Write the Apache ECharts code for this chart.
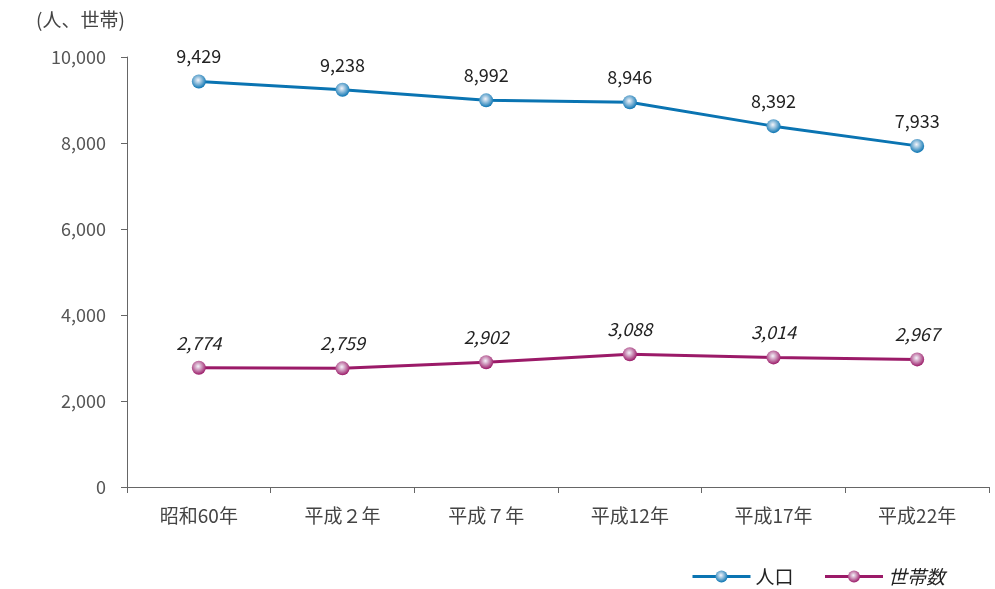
<!DOCTYPE html>
<html><head><meta charset="utf-8">
<script src="https://cdn.jsdelivr.net/npm/echarts@6/dist/echarts.min.js"></script>
<style>html,body{margin:0;padding:0;background:#fff}#c{width:995px;height:589px}</style>
</head><body><div id="c"></div>
<script>
const categories = ["昭和60年", "平成２年", "平成７年", "平成12年", "平成17年", "平成22年"];
const population = [9429, 9238, 8992, 8946, 8392, 7933];
const households = [2774, 2759, 2902, 3088, 3014, 2967];
const yTicks = [0, 2000, 4000, 6000, 8000, 10000];

const FONT = '"Noto Sans CJK JP", "Noto Sans", sans-serif';
const blue = '#0a74b2', purple = '#9b1a68';
function grad(c) {
  return { type: 'radial', x: 0.45, y: 0.4, r: 0.6,
    colorStops: [{ offset: 0, color: '#f4f4fa' }, { offset: 1, color: c }] };
}
const chart = echarts.init(document.getElementById('c'));
chart.setOption({
  animation: false,
  textStyle: { fontFamily: FONT },
  grid: { left: 127, right: 6, top: 57, bottom: 102 },
  graphic: [{ type: 'text', left: 36, top: 10,
    style: { text: '(人、世帯)', font: '19px ' + FONT, fill: '#444' } }],
  legend: {
    right: 45, bottom: -2, itemWidth: 58, itemHeight: 15, itemGap: 30,
    lineStyle: { width: 3 },
    textStyle: { fontSize: 19, color: '#222', fontFamily: FONT },
    data: [{ name: '人口' }, { name: '世帯数', textStyle: { fontStyle: 'italic' } }]
  },
  xAxis: {
    type: 'category', data: categories, boundaryGap: true,
    axisLine: { lineStyle: { color: '#666', width: 1 } },
    axisTick: { show: true, length: 6, lineStyle: { color: '#666' } },
    axisLabel: { fontSize: 19, color: '#444', margin: 19, fontFamily: FONT }
  },
  yAxis: {
    type: 'value', min: 0, max: 10000, interval: 2000,
    axisLine: { show: true, lineStyle: { color: '#666' } },
    axisTick: { show: true, length: 6, lineStyle: { color: '#666' } },
    splitLine: { show: false },
    axisLabel: { fontSize: 18, color: '#555', margin: 21, fontFamily: FONT,
      formatter: v => yTicks.includes(v) ? v.toLocaleString('en-US') : '' }
  },
  series: [
    { name: '人口', type: 'line', data: population,
      symbol: 'circle', symbolSize: 14,
      lineStyle: { color: blue, width: 3 },
      itemStyle: { color: grad(blue), borderColor: blue, borderWidth: 0 },
      label: { show: true, position: 'top', distance: 9, fontSize: 18, color: '#222',
        formatter: p => p.value.toLocaleString('en-US') } },
    { name: '世帯数', type: 'line', data: households,
      symbol: 'circle', symbolSize: 14,
      lineStyle: { color: purple, width: 3 },
      itemStyle: { color: grad(purple), borderColor: purple, borderWidth: 0 },
      label: { show: true, position: 'top', distance: 9, fontSize: 18, color: '#222', fontStyle: 'italic',
        formatter: p => p.value.toLocaleString('en-US') } }
  ]
});
</script></body></html>
